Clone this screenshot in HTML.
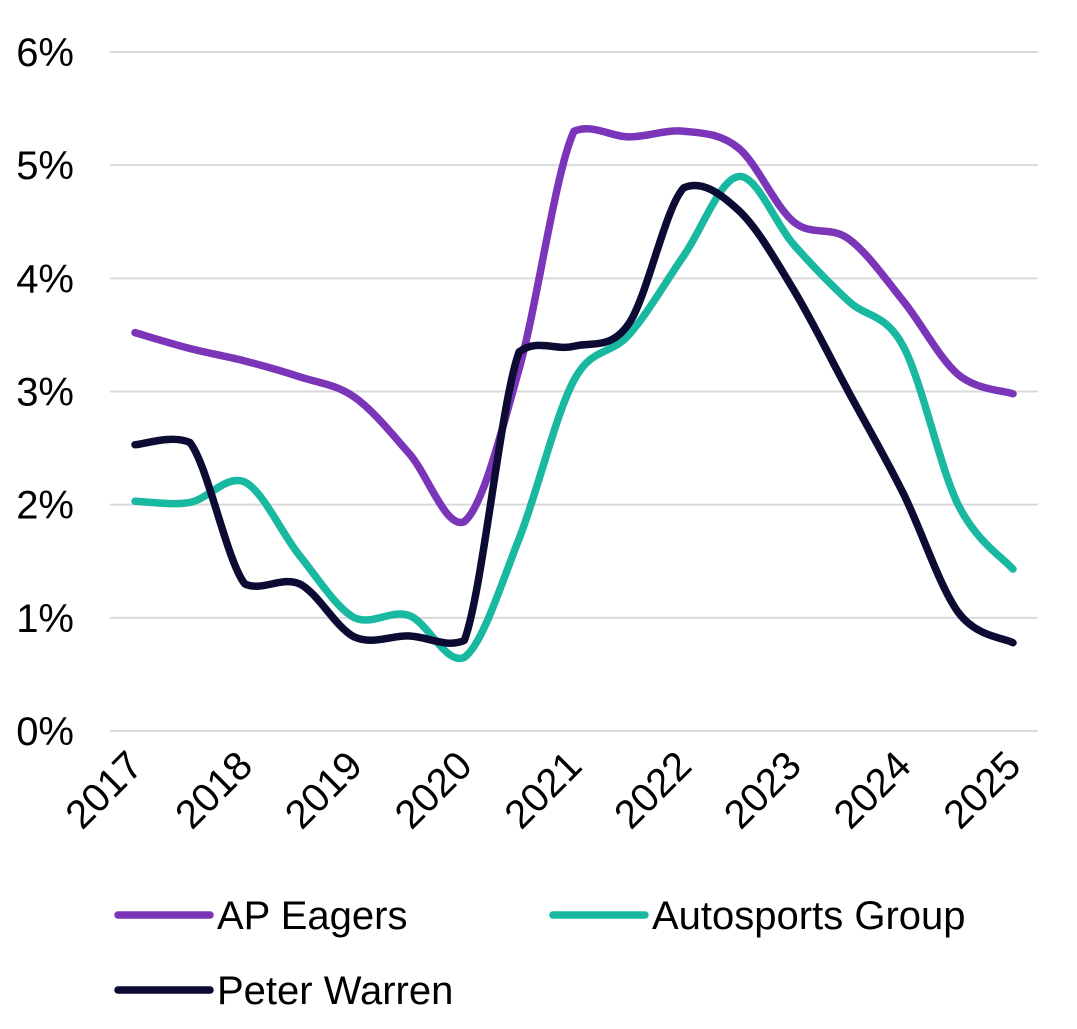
<!DOCTYPE html>
<html><head><meta charset="utf-8"><style>
html,body{margin:0;padding:0;background:#fff;}
svg{display:block;font-family:"Liberation Sans",Arial,sans-serif;}
</style></head><body>
<svg id="chart" width="1077" height="1029"></svg>
<script>
const years = ["2017","2018","2019","2020","2021","2022","2023","2024","2025"];
const yTicks = [0,1,2,3,4,5,6];
const apEagers = [3.52,3.38,3.27,3.13,2.95,2.45,1.85,3.2,5.3,5.25,5.3,5.15,4.5,4.35,3.8,3.15,2.98];
const autosports = [2.03,2.02,2.2,1.55,1.0,1.02,0.65,1.7,3.1,3.5,4.2,4.9,4.3,3.8,3.4,2.0,1.43];
const peterWarren = [2.53,2.55,1.3,1.3,0.83,0.84,0.8,3.35,3.4,3.6,4.8,4.6,3.9,3.0,2.1,1.05,0.78];
const seriesNames = ["AP Eagers","Autosports Group","Peter Warren"];
const colors = ["#7B35B8","#19B8A0","#0B0B33"];

const svg = document.getElementById('chart');
const NS = "http://www.w3.org/2000/svg";
const x0=135,x1=1013,yBase=731,yTop=52,yMax=6;
const xScale = i => x0 + (x1-x0)*i/(apEagers.length-1);
const yScale = v => yBase - (yBase-yTop)*v/yMax;
function mk(tag, attrs){const e=document.createElementNS(NS,tag);for(const k in attrs)e.setAttribute(k,attrs[k]);svg.appendChild(e);return e;}

yTicks.forEach(t=>{
  const g=mk('line',{x1:110,x2:1038,y1:yScale(t),y2:yScale(t),stroke:'#d9d9d9','stroke-width':2});
  
  
  const l=mk('text',{x:74,y:yScale(t)+14,'text-anchor':'end','font-size':40,fill:'#000'});
  l.textContent=t+'%';
  
  
});
years.forEach((y,i)=>{
  const x=xScale(i*2);
  const l=mk('text',{x:x+10,y:768,'text-anchor':'end','font-size':40,fill:'#000',transform:`rotate(-45 ${x+10} 768)`});
  l.textContent=y;
  
  
});
function pathFor(vals){
  const p=vals.map((v,i)=>[xScale(i),yScale(v)]);
  let d=`M${p[0][0]},${p[0][1]}`;
  const k=6, pad=8;
  const cl=(v,a,b)=>Math.max(Math.min(a,b)-pad,Math.min(Math.max(a,b)+pad,v));
  for(let i=0;i<p.length-1;i++){
    const a=p[Math.max(0,i-1)],b=p[i],c=p[i+1],e=p[Math.min(p.length-1,i+2)];
    const c1=[b[0]+(c[0]-a[0])/k,cl(b[1]+(c[1]-a[1])/k,b[1],c[1])];
    const c2=[c[0]-(e[0]-b[0])/k,cl(c[1]-(e[1]-b[1])/k,b[1],c[1])];
    d+=` C${c1[0]},${c1[1]} ${c2[0]},${c2[1]} ${c[0]},${c[1]}`;
  }
  return d;
}
[apEagers,autosports,peterWarren].forEach((s,k)=>{
  const p=mk('path',{d:pathFor(s),fill:'none',stroke:colors[k],'stroke-width':7.5,'stroke-linecap':'round','stroke-linejoin':'round'});
  
  
});
const legPos=[[118,915],[553,915],[118,990]];
seriesNames.forEach((n,k)=>{
  const [lx,ly]=legPos[k];
  const ln=mk('line',{x1:lx,x2:lx+92,y1:ly,y2:ly,stroke:colors[k],'stroke-width':7.5,'stroke-linecap':'round'});
  
  
  const t=mk('text',{x:lx+99,y:ly+14,'font-size':40,fill:'#000'});
  t.textContent=n;
  
  
});
</script>
</body></html>
